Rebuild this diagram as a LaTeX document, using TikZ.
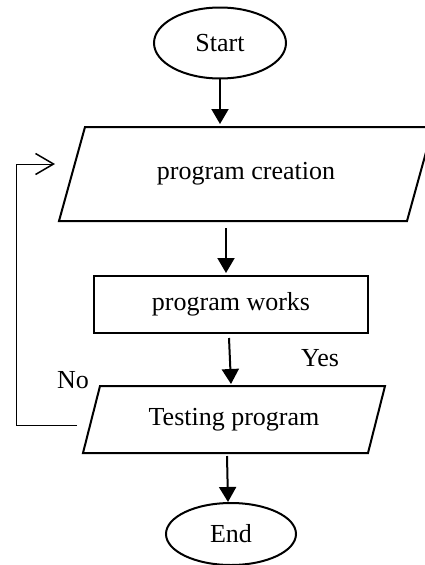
\documentclass[tikz,border=0pt]{standalone}
\usepackage{fontspec}
\setmainfont{Liberation Serif}
\usetikzlibrary{shapes.geometric,arrows.meta}
\begin{document}
\begin{tikzpicture}[x=1pt,y=-1pt,
  every node/.style={font=\fontsize{26}{30}\selectfont},
  box/.style={draw,line width=2pt,inner sep=0pt,outer sep=0pt},
  oval/.style={box,ellipse},
  parabody/.style={inner sep=0pt,outer sep=0pt},
  paraline/.style={line width=2pt,line join=miter},
  flow/.style={line width=2pt,-{Triangle[length=15pt,width=17pt]}},
  back/.style={line width=1pt,-{Straight Barb[length=18pt,width=21pt,line width=1.5pt]}}]
\useasboundingbox (0,0) rectangle (425,565);
\node[oval,minimum width=132pt,minimum height=71pt] (start) at (220,43) {Start};
\node[parabody,minimum width=348pt,minimum height=94pt] (create) at (246,174) {program creation};
\draw[paraline] ([xshift=13pt]create.north west) -- ([xshift=13pt]create.north east)
  -- ([xshift=-13pt]create.south east) -- ([xshift=-13pt]create.south west) -- cycle;
\node[box,minimum width=274pt,minimum height=57pt] (works) at (231,304.5) {program works};
\node[parabody,minimum width=285pt,minimum height=67pt] (test) at (234,419.5) {Testing program};
\draw[paraline] ([xshift=8.5pt]test.north west) -- ([xshift=8.5pt]test.north east)
  -- ([xshift=-8.5pt]test.south east) -- ([xshift=-8.5pt]test.south west) -- cycle;
\node[oval,minimum width=130pt,minimum height=62pt] (end) at (231,534) {End};
\node (yes) at (320,358) {Yes};
\node (no) at (73,380) {No};
\coordinate (fbA) at (77,425);
\coordinate (fbB) at (55,164);
\draw[flow] (start.south) -- ([yshift=3pt]start.south |- create.north);
\draw[flow] ([xshift=-5pt,yshift=-7pt]create.south -| works.north) -- ([xshift=-5pt,yshift=3pt]works.north);
\draw[flow] ([xshift=-2pt,yshift=-5pt]works.south) -- ([yshift=2pt]works.south |- test.north);
\draw[flow] ([xshift=-7pt,yshift=-3pt]test.south) -- ([xshift=-3pt,yshift=1pt]end.north);
\draw[back] (fbA) -- (16,425) |- (fbB);
\end{tikzpicture}
\end{document}
